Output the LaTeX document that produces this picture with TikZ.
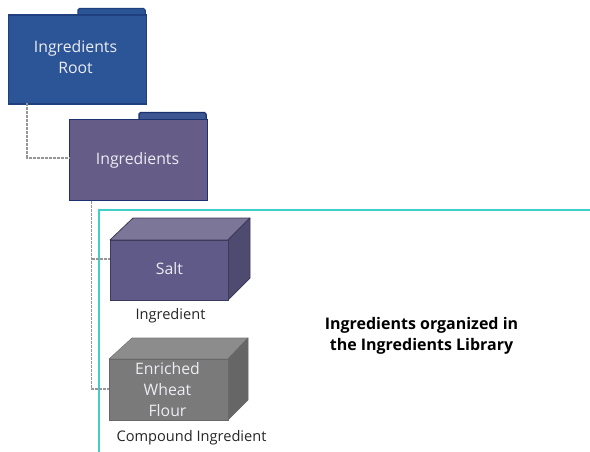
\documentclass[tikz,border=0pt]{standalone}
\usepackage{fontspec}
\setmainfont{Open Sans}
\definecolor{rootblue}{HTML}{2B5597}
\definecolor{rootedge}{HTML}{1F3F7F}
\definecolor{purp}{HTML}{655D88}
\definecolor{purpedge}{HTML}{1C3170}
\definecolor{teal}{HTML}{40D0C8}
\definecolor{saltfront}{HTML}{5F5A88}
\definecolor{salttop}{HTML}{7C7699}
\definecolor{saltside}{HTML}{4E4A70}
\definecolor{saltedge}{HTML}{3B3A58}
\definecolor{grayfront}{HTML}{7A7A7A}
\definecolor{graytop}{HTML}{8C8C8C}
\definecolor{grayside}{HTML}{666666}
\definecolor{linegray}{HTML}{969696}
\definecolor{labelwhite}{HTML}{ECECF2}
\tikzset{
  x=1pt,y=-1pt,
  folderbody/.style={minimum width=138pt,inner sep=0pt,draw,line width=1.3pt},
  foldertab/.style={line width=1.2pt,rounded corners=1.5pt},
  conn/.style={draw=linegray,line width=1.2pt,dash pattern=on 3pt off 1pt},
  boxtext/.style={inner sep=0pt,text=labelwhite,font=\fontsize{15.8}{21}\selectfont,align=center},
  caption/.style={font=\fontsize{14.6}{17}\selectfont,text=black!85,inner sep=0pt},
  note/.style={font=\bfseries\fontsize{16}{21}\selectfont,text=black,align=center,inner sep=0pt}
}
\begin{document}
\begin{tikzpicture}
\useasboundingbox (0,0) rectangle (590,452);
% teal frame
\draw[teal,line width=1.8pt] (590,210) -- (99,210) -- (99,452);
% folder tabs
\draw[foldertab,draw=rootedge,fill=rootblue] (78,15) -- (78,8.5) -- (145,8.5) -- (145.5,15);
\draw[foldertab,draw=purpedge,fill=rootblue!70!purp] (139,120) -- (139,112.5) -- (206,112.5) -- (206.5,120);
% folder bodies
\node[folderbody,anchor=north west,draw=rootedge,fill=rootblue,minimum height=89pt] (root) at (8,14.5) {};
\node[boxtext] (roottext) at (75.5,57) {Ingredients\\Root};
\node[folderbody,anchor=north west,draw=purpedge,fill=purp,minimum height=81pt] (ingr) at (69,119) {};
\node[boxtext] (ingrtext) at (137.5,160) {Ingredients};
% boxes
\fill[salttop,draw=saltedge,line width=0.8pt,line join=round] (110,240) -- (133,218) -- (250,218) -- (228,240) -- cycle;
\fill[saltside,draw=saltedge,line width=0.8pt,line join=round] (228,240) -- (250,218) -- (250,278) -- (228,300) -- cycle;
\node[anchor=north west,inner sep=0pt,minimum width=118pt,minimum height=60pt,fill=saltfront,draw=saltedge,line width=0.8pt] (salt) at (110,240) {};
\node[boxtext] (salttext) at (169.5,269) {Salt};
\fill[graytop,draw=graytop!85!black,line width=0.6pt,line join=round] (109,359) -- (132,338) -- (248,338) -- (228,359) -- cycle;
\fill[grayside,draw=grayside,line width=0.6pt,line join=round] (228,359) -- (248,338) -- (248,400) -- (228,420) -- cycle;
\node[anchor=north west,inner sep=0pt,minimum width=119pt,minimum height=61pt,fill=grayfront,draw=grayfront!85!black,line width=0.6pt] (flour) at (109,359) {};
\node[boxtext] (flourtext) at (167.5,389.5) {Enriched\\Wheat\\Flour};
% connectors
\coordinate (rootout) at (27,103.5);
\coordinate (rootelbow) at (27,158);
\coordinate (ingrout) at (91.5,200.5);
\coordinate (saltelbow) at (91.5,259);
\coordinate (flourelbow) at (91.5,389);
\draw[conn] (rootout) -- (rootelbow) -- (rootelbow -| ingr.west);
\draw[conn] (ingrout) -- (flourelbow) -- (flourelbow -| flour.west);
\draw[conn] (saltelbow) -- (saltelbow -| salt.west);
% labels
\node[caption] (saltcap) at (170.5,315.5) {Ingredient};
\node[caption] (flourcap) at (191.5,438) {Compound Ingredient};
\node[note] (orgnote) at (421.5,336) {Ingredients organized in\\the Ingredients Library};
\end{tikzpicture}
\end{document}
